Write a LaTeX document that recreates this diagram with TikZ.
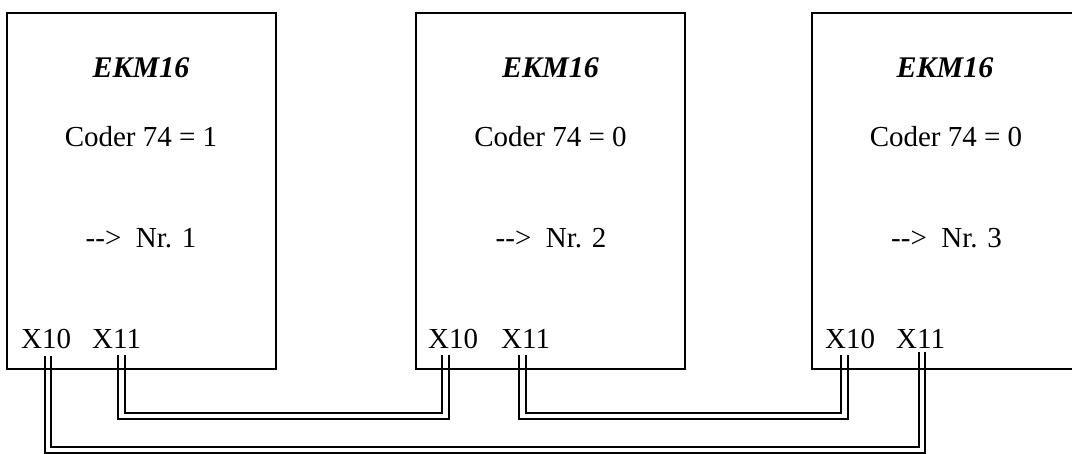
\documentclass[tikz,border=0pt]{standalone}
\usepackage{fontspec}
\setmainfont{Liberation Serif}
\begin{document}
\begin{tikzpicture}[x=1pt,y=-1pt,
  unit/.style={draw=black,line width=2.4pt,minimum width=269pt,minimum height=356pt,inner sep=0pt},
  lbl/.style={anchor=base,inner sep=0pt,font=\fontsize{29}{35}\selectfont},
  title/.style={lbl,font=\fontsize{30}{36}\selectfont\bfseries\itshape},
  port/.style={anchor=base west,inner sep=0pt,font=\fontsize{29}{35}\selectfont},
  cable/.style={draw=black,line width=2pt,double=white,double distance=4.4pt}]
\useasboundingbox (0,0) rectangle (1072,454);

% cable end points below the connectors
\coordinate (a10) at (48,356);
\coordinate (a11) at (121.5,355);
\coordinate (b10) at (445.5,355);
\coordinate (b11) at (522.5,355);
\coordinate (c10) at (844.5,355);
\coordinate (c11) at (922,352);
\coordinate (busLow) at (0,450);
\coordinate (busHigh) at (0,416);

% double-wire cables
\draw[cable] (a10) -- (a10 |- busLow) -| (c11);
\draw[cable] (a11) -- (a11 |- busHigh) -| (b10);
\draw[cable] (b11) -- (b11 |- busHigh) -| (c10);

% modules
\node[unit] (m1) at (141.5,191) {};
\node[unit] (m2) at (550.5,191) {};
\node[unit,minimum width=266pt] (m3) at (945,191) {};

\node[title] (t1) at (141,78) {EKM16};
\node[title] (t2) at (550.5,78) {EKM16};
\node[title] (t3) at (945,78) {EKM16};

\node[lbl] (k1) at (141,147) {Coder 74 = 1};
\node[lbl] (k2) at (550.5,147) {Coder 74 = 0};
\node[lbl] (k3) at (946,147) {Coder 74 = 0};

\node[lbl] (n1) at (141,248) {-{}-> \ Nr. 1};
\node[lbl] (n2) at (551,248) {-{}-> \ Nr. 2};
\node[lbl] (n3) at (946.5,248) {-{}-> \ Nr. 3};

\node[port] (p1a) at (21,349) {X10};
\node[port] (p1b) at (92,349) {X11};
\node[port] (p2a) at (428,349) {X10};
\node[port] (p2b) at (501,349) {X11};
\node[port] (p3a) at (825,349) {X10};
\node[port] (p3b) at (896,349) {X11};
\end{tikzpicture}
\end{document}
